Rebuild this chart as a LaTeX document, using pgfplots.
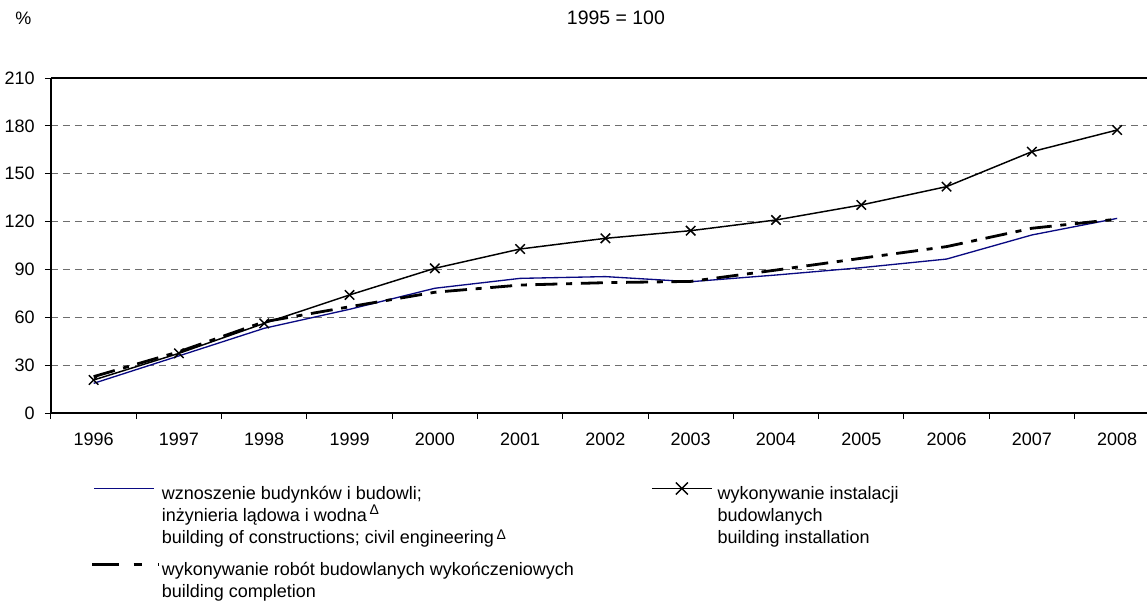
\documentclass[border=0pt]{standalone}
\usepackage{pgfplots}
\pgfplotsset{compat=1.18}
\usepackage{fontspec}
\setmainfont{Liberation Sans}
\usepackage{array}
\definecolor{navyline}{RGB}{10,10,130}
\definecolor{gridgray}{RGB}{110,110,110}
\pgfplotstableread{
x blue inst compl
0 18.6 20.7 22.8
1 35.8 37.4 38.4
2 53.1 56.2 57.2
3 65.0 74.0 66.6
4 78.2 90.7 75.7
5 84.4 102.8 80.2
6 85.5 109.5 81.7
7 82.3 114.3 82.5
8 86.5 121.0 89.6
9 91.1 130.4 97.0
10 96.5 141.9 104.3
11 111.6 163.8 115.8
12 122.0 177.4 121.5
}\datatable
\newcommand{\tri}{\fontsize{10.5}{10.5}\selectfont Δ}
\begin{document}
\fontsize{13.5}{16.3}\selectfont
\begin{tikzpicture}
\useasboundingbox (0,0) rectangle (860.25pt,450.75pt);
\node[anchor=base west, inner sep=0pt] at (11.25pt,432pt) {\%};
\node[anchor=base west, inner sep=0pt, font=\fontsize{14.6}{16}\selectfont] at (425pt,432pt) {1995 = 100};
\begin{axis}[
  at={(38.25pt,141pt)}, anchor=south west,
  scale only axis, width=822pt, height=251.25pt,
  xmin=-0.5, xmax=12.35, ymin=0, ymax=210,
  axis x line=box, axis y line=left,
  x axis line style={-, line width=0.9pt},
  y axis line style={-, line width=0.9pt},
  xtick pos=left, ytick pos=left,
  tick align=outside,
  major tick length=4.5pt, minor tick length=4.5pt,
  ytick={0,30,...,210},
  xtick={0,...,12},
  xticklabels={1996,1997,1998,1999,2000,2001,2002,2003,2004,2005,2006,2007,2008},
  minor xtick={-0.5,0.5,...,11.5},
  every major x tick/.append style={draw=none},
  every minor x tick/.append style={black, line width=0.75pt},
  every major y tick/.append style={black, line width=0.75pt},
  ticklabel style={font=\fontsize{13.5}{16}\selectfont},
  xticklabel style={yshift=-5.5pt},
  yticklabel style={xshift=-3pt},
  /pgf/number format/assume math mode=true,
  ymajorgrids,
  grid style={gridgray, line width=0.75pt, dash pattern=on 5.5pt off 3.5pt},
  legend columns=2,
  legend cell align=left,
  legend style={
    at={(0.0365,-0.2054)}, anchor=north west,
    draw=none, fill=none, inner sep=0pt, outer sep=0pt,
    row sep=43.5pt,
    nodes={inner sep=0pt, outer sep=0pt},
    font=\fontsize{13.5}{16.3}\selectfont,
    /tikz/every odd column/.append style={column sep=0.75pt},
    /tikz/every even column/.append style={column sep=0pt},
  },
]
\addplot[navyline, line width=1pt, mark=none,
  legend image code/.code={\draw[navyline, line width=1pt] (0pt,3.6pt) -- (45pt,3.6pt);}]
  table[x=x, y=blue] {\datatable};
\addlegendentry{\begin{tabular}[t]{@{}p{367pt}@{}}wznoszenie budynków i budowli;\\inżynieria lądowa i wodna\hspace{2pt}\smash{\raisebox{5pt}{\tri}}\\building of constructions; civil engineering\hspace{2pt}\smash{\raisebox{2.5pt}{\tri}}\end{tabular}}
\addplot[black, line width=1.1pt, mark=x, mark size=5pt, mark options={solid, line width=1.1pt},
  legend image code/.code={\draw[black, line width=1.1pt] (0pt,3.6pt) -- (45pt,3.6pt);
    \draw[black, line width=1.1pt] (22.5pt,3.6pt) +(-4.5pt,-4.5pt) -- +(4.5pt,4.5pt) +(-4.5pt,4.5pt) -- +(4.5pt,-4.5pt);}]
  table[x=x, y=inst] {\datatable};
\addlegendentry{\hspace{3pt}\begin{tabular}[t]{@{}l@{}}wykonywanie instalacji\\budowlanych\\building installation\end{tabular}}
\addplot[black, line width=2.1pt, mark=none, dash pattern=on 16.5pt off 6.5pt on 4.5pt off 6.5pt,
  legend image code/.code={\draw[black, line width=2.1pt, dash pattern=on 20pt off 11pt on 6pt off 12.5pt] (-1.5pt,3.6pt) -- (48.75pt,3.6pt);}]
  table[x=x, y=compl] {\datatable};
\addlegendentry{\begin{tabular}[t]{@{}p{367pt}@{}}wykonywanie robót budowlanych wykończeniowych\\building completion\end{tabular}}
\end{axis}
\end{tikzpicture}
\end{document}
